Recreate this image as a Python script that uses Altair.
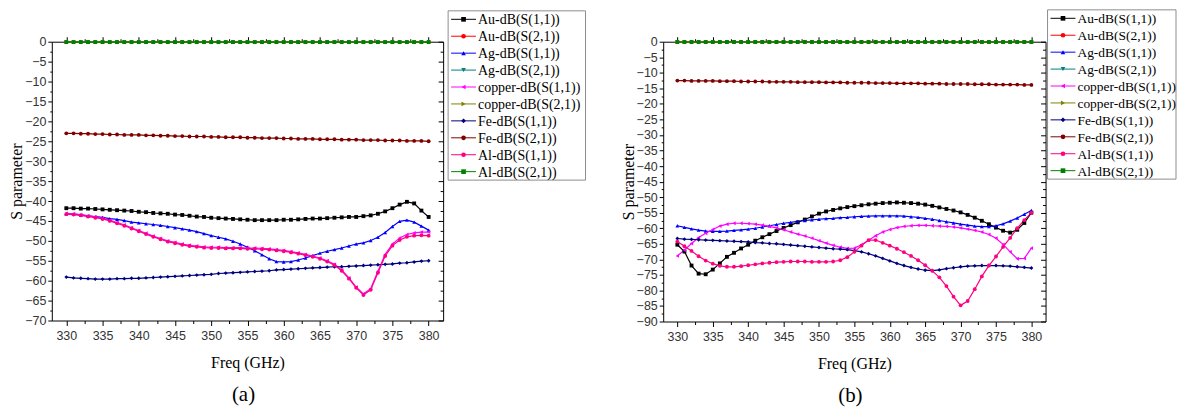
import altair as alt
import pandas as pd

FREQ = [330, 331, 332, 333, 334, 335, 336, 337, 338, 339,
        340, 341, 342, 343, 344, 345, 346, 347, 348, 349,
        350, 351, 352, 353, 354, 355, 356, 357, 358, 359,
        360, 361, 362, 363, 364, 365, 366, 367, 368, 369,
        370, 371, 372, 373, 374, 375, 376, 377, 378, 379, 380]

SERIES = ["Au-dB(S(1,1))", "Au-dB(S(2,1))", "Ag-dB(S(1,1))", "Ag-dB(S(2,1))",
          "copper-dB(S(1,1))", "copper-dB(S(2,1))", "Fe-dB(S(1,1))", "Fe-dB(S(2,1))",
          "Al-dB(S(1,1))", "Al-dB(S(2,1))"]
COLORS = ["#000000", "#FF0000", "#0000FF", "#008080", "#FF00FF",
          "#808000", "#000080", "#800000", "#FF0080", "#008000"]
SHAPES = ["square", "circle", "triangle-up", "triangle-down", "triangle-left",
          "triangle-right", "diamond", "circle", "circle", "square"]

X_MAJOR = [330, 335, 340, 345, 350, 355, 360, 365, 370, 375, 380]
X_MINOR = [332.5, 337.5, 342.5, 347.5, 352.5, 357.5, 362.5, 367.5, 372.5, 377.5]
Y_MAJOR_A = [-70, -65, -60, -55, -50, -45, -40, -35, -30, -25, -20, -15, -10, -5, 0]
Y_MINOR_A = [-67.5, -62.5, -57.5, -52.5, -47.5, -42.5, -37.5, -32.5, -27.5, -22.5, -17.5, -12.5, -7.5, -2.5]
Y_MAJOR_B = [-90, -85, -80, -75, -70, -65, -60, -55, -50, -45, -40, -35, -30, -25, -20, -15, -10, -5, 0]
Y_MINOR_B = [-87.5, -82.5, -77.5, -72.5, -67.5, -62.5, -57.5, -52.5, -47.5, -42.5, -37.5, -32.5,
             -27.5, -22.5, -17.5, -12.5, -7.5, -2.5]

# ---------------- panel (a) ----------------
au_s11_a = [-41.8, -41.8, -41.9, -41.9, -42.0, -42.1, -42.2, -42.3, -42.4, -42.5,
            -42.7, -42.8, -43.0, -43.1, -43.2, -43.4, -43.5, -43.7, -43.9, -44.0,
            -44.2, -44.3, -44.4, -44.5, -44.6, -44.7, -44.8, -44.8, -44.8, -44.8,
            -44.7, -44.7, -44.6, -44.5, -44.4, -44.4, -44.3, -44.2, -44.1, -44.0,
            -44.0, -43.8, -43.6, -43.2, -42.6, -41.8, -40.9, -40.2, -40.6, -42.4, -44.0]
ag_s11_a = [-43.2, -43.3, -43.5, -43.7, -43.9, -44.1, -44.4, -44.6, -44.9, -45.3,
            -45.5, -45.7, -45.9, -46.1, -46.4, -46.7, -47.0, -47.3, -47.7, -48.2,
            -48.7, -49.1, -49.5, -50.1, -50.8, -51.6, -52.5, -53.5, -54.5, -55.2,
            -55.3, -55.2, -54.8, -54.3, -53.7, -53.1, -52.6, -52.2, -51.8, -51.3,
            -50.8, -50.5, -49.9, -49.1, -47.9, -46.4, -45.1, -44.8, -45.3, -46.3, -47.3]
copper_s11_a = [-43.1, -43.2, -43.4, -43.7, -44.0, -44.3, -44.8, -45.4, -46.0, -46.7,
                -47.4, -48.1, -48.8, -49.4, -50.0, -50.4, -50.8, -51.1, -51.3, -51.5,
                -51.6, -51.6, -51.7, -51.7, -51.7, -51.8, -51.8, -51.9, -52.0, -52.2,
                -52.4, -52.7, -53.0, -53.4, -53.8, -54.3, -55.0, -55.9, -57.3, -59.3,
                -61.6, -63.3, -62.0, -57.6, -53.4, -50.8, -49.3, -48.4, -48.0, -47.8, -47.8]
fe_s11_a = [-59.1, -59.3, -59.4, -59.5, -59.6, -59.6, -59.6, -59.5, -59.5, -59.4,
            -59.4, -59.3, -59.2, -59.1, -59.0, -58.9, -58.8, -58.7, -58.6, -58.5,
            -58.4, -58.2, -58.1, -58.0, -57.9, -57.8, -57.7, -57.6, -57.5, -57.3,
            -57.2, -57.1, -57.0, -56.9, -56.8, -56.7, -56.6, -56.5, -56.5, -56.4,
            -56.3, -56.2, -56.1, -56.0, -55.9, -55.8, -55.6, -55.5, -55.3, -55.1, -55.0]
fe_s21_a = [-23.0, -23.0, -23.1, -23.1, -23.2, -23.2, -23.3, -23.3, -23.4, -23.4,
            -23.4, -23.5, -23.5, -23.6, -23.6, -23.7, -23.7, -23.8, -23.8, -23.8,
            -23.9, -23.9, -24.0, -24.0, -24.0, -24.1, -24.1, -24.2, -24.2, -24.2,
            -24.3, -24.3, -24.4, -24.4, -24.4, -24.5, -24.5, -24.5, -24.6, -24.6,
            -24.6, -24.7, -24.7, -24.7, -24.8, -24.8, -24.8, -24.9, -24.9, -24.9, -25.0]
al_s11_a = [-43.3, -43.4, -43.6, -43.9, -44.2, -44.5, -45.0, -45.6, -46.2, -46.9,
            -47.6, -48.3, -49.0, -49.6, -50.2, -50.6, -51.0, -51.3, -51.5, -51.7,
            -51.8, -51.8, -51.9, -51.9, -51.9, -52.0, -52.0, -52.1, -52.2, -52.4,
            -52.6, -52.9, -53.2, -53.6, -54.0, -54.5, -55.2, -56.1, -57.5, -59.5,
            -61.8, -63.6, -62.3, -58.0, -53.8, -51.2, -49.8, -49.0, -48.7, -48.6, -48.7]
# Au, Ag, copper and Al S(2,1) all sit on the 0 dB line
near_zero_s21_a = [-0.1, -0.1, -0.1, -0.1, -0.1, -0.1, -0.1, -0.1, -0.1, -0.1,
                   -0.1, -0.1, -0.1, -0.1, -0.1, -0.1, -0.1, -0.1, -0.1, -0.1,
                   -0.1, -0.1, -0.1, -0.1, -0.1, -0.1, -0.1, -0.1, -0.1, -0.1,
                   -0.1, -0.1, -0.1, -0.1, -0.1, -0.1, -0.1, -0.1, -0.1, -0.1,
                   -0.1, -0.1, -0.1, -0.1, -0.1, -0.1, -0.1, -0.1, -0.1, -0.1, -0.1]

# ---------------- panel (b) ----------------
au_s11_b = [-65.3, -67.5, -72.0, -74.6, -74.8, -73.3, -71.3, -69.2, -67.9, -66.5,
            -65.3, -64.0, -62.9, -61.9, -60.9, -59.9, -59.0, -58.1, -57.2, -56.2,
            -55.3, -54.6, -54.1, -53.6, -53.2, -52.9, -52.6, -52.3, -52.1, -51.9,
            -51.8, -51.7, -51.8, -51.9, -52.1, -52.4, -52.8, -53.3, -53.8, -54.3,
            -54.9, -55.7, -56.6, -57.6, -58.7, -59.8, -60.8, -61.4, -60.5, -58.3, -55.0]
ag_s11_b = [-59.2, -59.7, -60.2, -60.6, -60.9, -61.0, -61.0, -60.9, -60.7, -60.5,
            -60.3, -60.0, -59.6, -59.2, -58.8, -58.4, -58.1, -57.8, -57.5, -57.3,
            -57.1, -56.9, -56.8, -56.6, -56.5, -56.3, -56.2, -56.1, -56.0, -56.0,
            -56.0, -56.0, -56.1, -56.3, -56.5, -56.8, -57.1, -57.5, -57.9, -58.3,
            -58.7, -59.0, -59.3, -59.5, -59.5, -59.2, -58.6, -57.7, -56.7, -55.5, -54.3]
copper_s11_b = [-68.9, -67.0, -64.9, -63.0, -61.6, -60.4, -59.3, -58.7, -58.4, -58.4,
                -58.5, -58.7, -59.0, -59.4, -59.9, -60.5, -61.2, -61.9, -62.5, -63.2,
                -64.0, -64.8, -65.5, -66.1, -66.5, -66.4, -65.3, -63.9, -62.4, -61.2,
                -60.4, -59.8, -59.4, -59.2, -59.1, -59.1, -59.2, -59.3, -59.4, -59.6,
                -59.9, -60.3, -60.7, -61.2, -62.0, -63.2, -65.2, -67.6, -69.8, -69.7, -66.4]
fe_s11_b = [-63.3, -63.5, -63.6, -63.7, -63.8, -63.9, -64.0, -64.1, -64.2, -64.3,
            -64.4, -64.6, -64.7, -64.9, -65.0, -65.2, -65.4, -65.6, -65.8, -66.0,
            -66.2, -66.4, -66.6, -66.7, -66.9, -67.2, -67.6, -68.2, -68.9, -69.7,
            -70.5, -71.3, -72.0, -72.6, -73.1, -73.5, -73.6, -73.4, -73.0, -72.7,
            -72.4, -72.2, -72.1, -72.0, -72.0, -72.0, -72.1, -72.2, -72.4, -72.6, -72.8]
fe_s21_b = [-12.5, -12.5, -12.6, -12.6, -12.6, -12.6, -12.7, -12.7, -12.7, -12.8,
            -12.8, -12.8, -12.8, -12.9, -12.9, -12.9, -12.9, -13.0, -13.0, -13.0,
            -13.0, -13.1, -13.1, -13.1, -13.2, -13.2, -13.2, -13.2, -13.3, -13.3,
            -13.3, -13.4, -13.4, -13.4, -13.4, -13.5, -13.5, -13.5, -13.6, -13.6,
            -13.6, -13.6, -13.7, -13.7, -13.7, -13.8, -13.8, -13.8, -13.8, -13.9, -13.9]
al_s11_b = [-64.3, -65.8, -67.3, -69.0, -70.4, -71.4, -72.1, -72.4, -72.4, -72.2,
            -71.9, -71.6, -71.3, -71.1, -70.9, -70.8, -70.7, -70.7, -70.7, -70.8,
            -70.8, -70.8, -70.7, -70.3, -69.3, -67.6, -65.6, -63.8, -63.8, -64.7,
            -65.6, -66.6, -67.7, -68.9, -70.3, -71.9, -73.7, -75.8, -78.6, -82.0,
            -84.8, -83.4, -79.6, -75.5, -72.0, -69.1, -66.0, -63.1, -60.0, -57.4, -55.0]
near_zero_s21_b = [-0.1, -0.1, -0.1, -0.1, -0.1, -0.1, -0.1, -0.1, -0.1, -0.1,
                   -0.1, -0.1, -0.1, -0.1, -0.1, -0.1, -0.1, -0.1, -0.1, -0.1,
                   -0.1, -0.1, -0.1, -0.1, -0.1, -0.1, -0.1, -0.1, -0.1, -0.1,
                   -0.1, -0.1, -0.1, -0.1, -0.1, -0.1, -0.1, -0.1, -0.1, -0.1,
                   -0.1, -0.1, -0.1, -0.1, -0.1, -0.1, -0.1, -0.1, -0.1, -0.1, -0.1]

values_a = [au_s11_a, near_zero_s21_a, ag_s11_a, near_zero_s21_a, copper_s11_a,
            near_zero_s21_a, fe_s11_a, fe_s21_a, al_s11_a, near_zero_s21_a]
values_b = [au_s11_b, near_zero_s21_b, ag_s11_b, near_zero_s21_b, copper_s11_b,
            near_zero_s21_b, fe_s11_b, fe_s21_b, al_s11_b, near_zero_s21_b]


def long_df(values):
    rows = []
    for name, vals in zip(SERIES, values):
        for f, v in zip(FREQ, vals):
            rows.append({"freq": f, "value": v, "series": name})
    return pd.DataFrame(rows)


SANS = "Liberation Sans"
SERIF = "Liberation Serif"

color_enc = alt.Color("series:N", scale=alt.Scale(domain=SERIES, range=COLORS), legend=None)
shape_enc = alt.Shape("series:N", scale=alt.Scale(domain=SERIES, range=SHAPES), legend=None)


def legend_layers(lx, ly, lw, lh, fsize):
    """Boxed legend drawn beside the plot (line sample + marker + label)."""
    ldf = pd.DataFrame({"series": SERIES})
    base = alt.Chart(ldf)
    step = lh / len(SERIES)
    y = alt.Y("series:N", axis=None,
              scale=alt.Scale(type="point", domain=SERIES, padding=0,
                              range=[ly + step / 2, ly + lh - step / 2]))
    box = alt.Chart(pd.DataFrame({"box": [0]})).mark_rect(
        fill="#ffffff", fillOpacity=0, stroke="#8c8c8c", strokeWidth=1
    ).encode(x=alt.value(lx), x2=alt.value(lx + lw), y=alt.value(ly), y2=alt.value(ly + lh))
    rule = base.mark_rule(strokeWidth=1).encode(
        x=alt.value(lx + 3), x2=alt.value(lx + 28), y=y, color=color_enc)
    pt = base.mark_point(filled=True, size=22, opacity=1).encode(
        x=alt.value(lx + 15.5), y=y, color=color_enc, shape=shape_enc)
    txt = base.mark_text(align="left", baseline="middle", font=SERIF, fontSize=fsize,
                         color="#000000", dy=1).encode(
        x=alt.value(lx + 30), y=y, text="series:N")
    return [box, rule, pt, txt]


def panel(df, ydom, ymaj, ymin, w, h, label, leg):
    xs = alt.Scale(domain=[328, 382], nice=False, zero=False)
    ys = alt.Scale(domain=ydom, nice=False, zero=False)
    common = dict(grid=False, domain=False, labelFlush=False, labelOverlap=False,
                  tickColor="#000000", tickWidth=1)
    base = alt.Chart(df)
    lines = base.mark_line(strokeWidth=1.2).encode(
        x=alt.X("freq:Q", scale=xs, axis=alt.Axis(
            values=X_MAJOR, orient="bottom", title="Freq (GHz)", tickSize=5,
            labelPadding=4, titlePadding=13, **common)),
        y=alt.Y("value:Q", scale=ys, axis=alt.Axis(
            values=ymaj, orient="left", title="S parameter", tickSize=4,
            labelPadding=2, titlePadding=0, **common)),
        color=color_enc,
    )
    pts = base.mark_point(filled=True, size=15, opacity=1).encode(
        x=alt.X("freq:Q", scale=xs, title=None, axis=alt.Axis(
            values=X_MINOR, orient="bottom", labels=False, tickSize=3, **common)),
        y=alt.Y("value:Q", scale=ys, title=None, axis=alt.Axis(
            values=ymin, orient="left", labels=False, tickSize=2, **common)),
        color=color_enc,
        shape=shape_enc,
    )
    top_major = base.mark_point(opacity=0).encode(
        x=alt.X("freq:Q", scale=xs, title=None, axis=alt.Axis(
            values=X_MAJOR, orient="top", labels=False, tickSize=5, **common)),
        y=alt.Y("value:Q", scale=ys, title=None, axis=alt.Axis(
            values=ymaj, orient="right", labels=False, tickSize=5, offset=-5, **common)),
    )
    top_minor = base.mark_point(opacity=0).encode(
        x=alt.X("freq:Q", scale=xs, title=None, axis=alt.Axis(
            values=X_MINOR, orient="top", labels=False, tickSize=3, **common)),
        y=alt.Y("value:Q", scale=ys, title=None, axis=alt.Axis(
            values=ymin, orient="right", labels=False, tickSize=3, offset=-3, **common)),
    )
    layers = [lines, pts, top_major, top_minor] + legend_layers(*leg)
    return alt.layer(*layers).resolve_scale(y="independent").resolve_axis(
        x="independent", y="independent"
    ).properties(
        width=w, height=h,
        view=alt.ViewBackground(stroke="#000000", strokeWidth=1),
        title=alt.TitleParams(label, orient="bottom", anchor="middle", frame="group",
                              font=SERIF, fontSize=21, fontWeight="normal",
                              color="#000000", offset=13, dx=-4),
    )


panel_a = panel(long_df(values_a), [-70, 0], Y_MAJOR_A, Y_MINOR_A, 393, 280, "(a)",
                (398, -31, 138, 170, 14))
panel_b = panel(long_df(values_b), [-90, 0], Y_MAJOR_B, Y_MINOR_B, 384, 281, "(b)",
                (386, -32, 129, 170, 13.5))

chart = alt.hconcat(panel_a, panel_b, spacing=33).properties(
    padding={"left": 0, "top": 0, "right": 0, "bottom": 0}
).configure_axis(
    labelFont=SANS, labelFontSize=12.5, labelColor="#333333",
    titleFont=SERIF, titleFontSize=16, titleFontWeight="normal", titleColor="#000000",
).configure_view(stroke=None)

chart.save("out.html", embed_options={"renderer": "svg", "actions": False})
